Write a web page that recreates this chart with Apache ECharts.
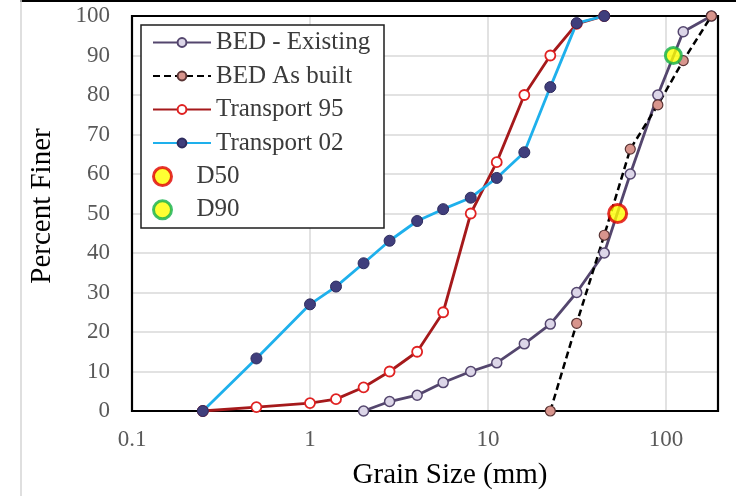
<!DOCTYPE html>
<html>
<head>
<meta charset="utf-8">
<script src="https://cdn.jsdelivr.net/npm/echarts@6/dist/echarts.min.js"></script>
<style>html,body{margin:0;padding:0;background:#fff;}#c{width:736px;height:496px;}</style>
</head>
<body>
<div id="c"></div>
<script>
// Grain sizes (mm) and percent finer
var existingSize = [2, 2.8, 4, 5.6, 8, 11.2, 16, 22.4, 31.5, 45, 63, 90, 125, 180];
var existingPct  = [0, 2.4, 4, 7.2, 10, 12.2, 17, 22, 30, 40, 60, 80, 96, 100];
var asBuiltSize  = [22.4, 31.5, 45, 63, 90, 125, 180];
var asBuiltPct   = [0, 22.2, 44.5, 66.3, 77.5, 88.7, 100];
var t95Size = [0.25, 0.5, 1, 1.4, 2, 2.8, 4, 5.6, 8, 11.2, 16, 22.4, 31.5, 45];
var t95Pct  = [0, 1, 2, 3, 6, 10, 15, 25, 50, 63, 80, 90, 98, 100];
var t02Size = [0.25, 0.5, 1, 1.4, 2, 2.8, 4, 5.6, 8, 11.2, 16, 22.4, 31.5, 45];
var t02Pct  = [0, 13.3, 27, 31.5, 37.4, 43.1, 48.1, 51.1, 54, 59, 65.5, 82, 98.2, 100];
var d50 = [53.5, 50];
var d90 = [110, 90];
var seriesNames = ['BED - Existing', 'BED As built', 'Transport 95', 'Transport 02', 'D50', 'D90'];
var xTitle = 'Grain Size (mm)';
var yTitle = 'Percent Finer';

function pairs(xs, ys) { return xs.map(function (x, i) { return [x, ys[i]]; }); }

var font = 'Liberation Serif';
var chart = echarts.init(document.getElementById('c'));
chart.setOption({
  animation: false,
  backgroundColor: '#fff',
  grid: { left: 132, right: 18, top: 16, bottom: 85 },
  xAxis: {
    type: 'log', logBase: 10, min: 0.1, max: 196,
    axisLine: { show: false }, axisTick: { show: false },
    axisLabel: {
      fontFamily: font, fontSize: 23, color: '#595959', margin: 17, showMaxLabel: false,
      formatter: function (v) { return v >= 1 ? String(Math.round(v)) : String(+v.toPrecision(1)); }
    },
    splitLine: { show: true, lineStyle: { color: '#d9d9d9', width: 1.5 } }
  },
  yAxis: {
    type: 'value', min: 0, max: 100, interval: 10,
    axisLine: { show: false }, axisTick: { show: false },
    axisLabel: { fontFamily: font, fontSize: 23, color: '#595959', margin: 22 },
    splitLine: { show: true, lineStyle: { color: '#d9d9d9', width: 1.5 } }
  },
  legend: [
    {
      data: seriesNames.slice(0, 4), orient: 'vertical', left: 152, top: 30, padding: 0,
      itemWidth: 58, itemHeight: 11, itemGap: 8.5,
      textStyle: { fontFamily: font, fontSize: 25, lineHeight: 25, color: '#3b3b3b' }
    },
    {
      data: seriesNames.slice(4), orient: 'vertical', left: 152, top: 164, padding: 0,
      itemWidth: 58, itemHeight: 18, itemGap: 8.3,
      itemStyle: { borderWidth: 3 },
      textStyle: { fontFamily: font, fontSize: 25, lineHeight: 25, color: '#3b3b3b' }
    }
  ],
  graphic: [
    { type: 'line', z: 1, shape: { x1: 20, y1: 1, x2: 736, y2: 1 }, style: { stroke: '#000', lineWidth: 2 } },
    { type: 'line', z: 1, shape: { x1: 21, y1: 0, x2: 21, y2: 496 }, style: { stroke: '#d4d4d4', lineWidth: 1.5 } },
    { type: 'rect', z: 1, shape: { x: 132, y: 16, width: 586, height: 395 }, style: { fill: 'none', stroke: '#000', lineWidth: 2.2 } },
    { type: 'rect', z: 1, shape: { x: 141, y: 25, width: 243, height: 203 }, style: { fill: '#fff', stroke: '#1e1e1e', lineWidth: 1.5 } },
    { type: 'text', z: 1, x: 450, y: 475, style: { text: xTitle, fontFamily: font, fontSize: 29, fill: '#000', textAlign: 'center', textVerticalAlign: 'middle' } },
    { type: 'text', z: 1, x: 42, y: 206, rotation: Math.PI / 2, style: { text: yTitle, fontFamily: font, fontSize: 29, fill: '#000', textAlign: 'center', textVerticalAlign: 'middle' } }
  ],
  series: [
    {
      name: seriesNames[0], type: 'line', clip: false, data: pairs(existingSize, existingPct),
      symbol: 'circle', symbolSize: 10,
      lineStyle: { color: '#54466e', width: 2.8 },
      itemStyle: { color: '#dcd6e8', borderColor: '#54466e', borderWidth: 1.5 }
    },
    {
      name: seriesNames[1], type: 'line', clip: false, data: pairs(asBuiltSize, asBuiltPct),
      symbol: 'circle', symbolSize: 10,
      lineStyle: { color: '#000', width: 2.5, type: [7, 4] },
      itemStyle: { color: '#d8958d', borderColor: '#5a3434', borderWidth: 1.2 }
    },
    {
      name: seriesNames[2], type: 'line', clip: false, data: pairs(t95Size, t95Pct),
      symbol: 'circle', symbolSize: 10,
      lineStyle: { color: '#a5191b', width: 2.8 },
      itemStyle: { color: '#fff', borderColor: '#e02222', borderWidth: 1.8 }
    },
    {
      name: seriesNames[3], type: 'line', clip: false, data: pairs(t02Size, t02Pct),
      symbol: 'circle', symbolSize: 11,
      lineStyle: { color: '#1eb0ec', width: 2.8 },
      itemStyle: { color: '#403e7c', borderColor: '#2e2c5e', borderWidth: 1 }
    },
    {
      name: seriesNames[4], type: 'scatter', clip: false, z: 3, data: [d50],
      symbol: 'circle', symbolSize: 18,
      itemStyle: { color: '#ffff00', borderColor: '#e00000', borderWidth: 3 }
    },
    {
      name: seriesNames[5], type: 'scatter', clip: false, z: 3, data: [d90],
      symbol: 'circle', symbolSize: 16,
      itemStyle: { color: '#ffff00', borderColor: '#12b04a', borderWidth: 3 }
    }
  ]
});
</script>
</body>
</html>
